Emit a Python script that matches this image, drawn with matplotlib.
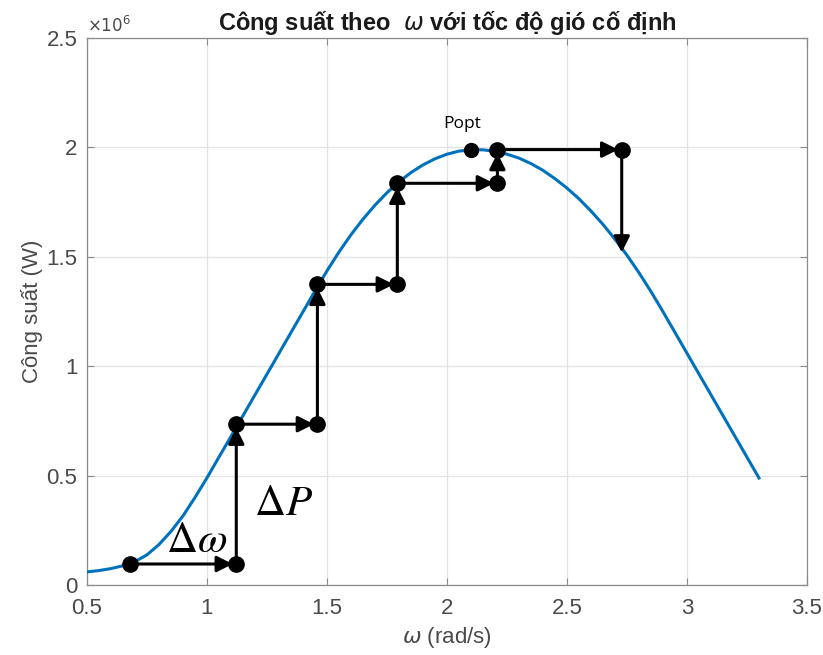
import matplotlib
matplotlib.use("Agg")
import matplotlib.pyplot as plt
import numpy as np

# ---------------- data ----------------
omega = [0.50, 0.55, 0.60, 0.65, 0.70, 0.75, 0.80, 0.85, 0.90, 0.95,
         1.00, 1.05, 1.10, 1.15, 1.20, 1.25, 1.30, 1.35, 1.40, 1.45,
         1.50, 1.55, 1.60, 1.65, 1.70, 1.75, 1.80, 1.85, 1.90, 1.95,
         2.00, 2.05, 2.10, 2.15, 2.20, 2.25, 2.30, 2.35, 2.40, 2.45,
         2.50, 2.55, 2.60, 2.65, 2.70, 2.75, 2.80, 2.85, 2.90, 2.95,
         3.00, 3.05, 3.10, 3.15, 3.20, 3.25, 3.30]
power = [0.060e6, 0.066e6, 0.075e6, 0.088e6, 0.107e6, 0.138e6, 0.185e6, 0.245e6, 0.316e6, 0.400e6,
         0.490e6, 0.585e6, 0.679e6, 0.774e6, 0.869e6, 0.964e6, 1.059e6, 1.154e6, 1.249e6, 1.344e6,
         1.436e6, 1.522e6, 1.601e6, 1.672e6, 1.736e6, 1.793e6, 1.843e6, 1.885e6, 1.920e6, 1.948e6,
         1.969e6, 1.983e6, 1.989e6, 1.989e6, 1.982e6, 1.969e6, 1.951e6, 1.926e6, 1.895e6, 1.857e6,
         1.814e6, 1.765e6, 1.709e6, 1.648e6, 1.580e6, 1.507e6, 1.427e6, 1.341e6, 1.249e6, 1.154e6,
         1.059e6, 0.964e6, 0.869e6, 0.774e6, 0.679e6, 0.584e6, 0.489e6]

# P&O steps (hill-climbing path)
step_w = [0.679, 1.122, 1.122, 1.46, 1.46, 1.793, 1.793, 2.21, 2.21, 2.728, 2.728]
step_p = [0.096e6, 0.096e6, 0.735e6, 0.735e6, 1.374e6, 1.374e6, 1.836e6,
          1.836e6, 1.99e6, 1.99e6, 1.52e6]
dot_w = step_w[:-1]
dot_p = step_p[:-1]

popt_w = 2.098
popt_p = 1.986e6

xticks = [0.5, 1, 1.5, 2, 2.5, 3, 3.5]
xtick_labels = ['0.5', '1', '1.5', '2', '2.5', '3', '3.5']
yticks = [0, 0.5e6, 1e6, 1.5e6, 2e6, 2.5e6]
ytick_labels = ['0', '0.5', '1', '1.5', '2', '2.5']

title_text = r'Công suất theo  $\omega$ với tốc độ gió cố định'
xlabel_text = r'$\omega$ (rad/s)'
ylabel_text = 'Công suất (W)'

# ---------------- figure ----------------
plt.rcParams['font.family'] = ['Liberation Sans', 'DejaVu Sans']
fig = plt.figure(figsize=(8.23, 6.55), dpi=100)
ax = fig.add_axes([87/823, 1-585/655, (807-87)/823, (585-38)/655])

tick_col = '#4a4a4a'
spine_col = '#8a8a8a'

ax.plot(omega, power, color='#0072BD', lw=2.2, zorder=3)

for i in range(len(step_w) - 1):
    last = (i == len(step_w) - 2)
    ax.annotate('', xy=(step_w[i+1], step_p[i+1]), xytext=(step_w[i], step_p[i]),
                arrowprops=dict(arrowstyle='-|>', color='k', lw=2.2,
                                mutation_scale=24, shrinkA=0,
                                shrinkB=0 if last else 2.5),
                zorder=4)

ax.plot(dot_w, dot_p, 'o', color='k', ms=11, zorder=5)
ax.plot([popt_w], [popt_p], 'o', color='k', ms=10, zorder=5)
ax.text(popt_w - 0.035, popt_p + 0.085e6, 'Popt', fontsize=12.5, family='Open Sans',
        ha='center', va='bottom', color='k', zorder=6)

ax.text(0.955, 0.2e6, r'$\Delta\omega$', fontsize=31, math_fontfamily='stix',
        ha='center', va='center', color='k')
ax.text(1.318, 0.37e6, r'$\Delta P$', fontsize=31, math_fontfamily='stix',
        ha='center', va='center', color='k')

ax.set_xlim(0.5, 3.5)
ax.set_ylim(0, 2.5e6)
ax.set_xticks(xticks)
ax.set_xticklabels(xtick_labels)
ax.set_yticks(yticks)
ax.set_yticklabels(ytick_labels)
ax.tick_params(direction='in', top=True, right=True, length=5, width=0.8,
               colors=spine_col, labelcolor=tick_col, labelsize=16)
ax.tick_params(axis='x', pad=9)
ax.tick_params(axis='y', pad=7)
for s in ax.spines.values():
    s.set_color(spine_col)
    s.set_linewidth(0.9)
ax.grid(True, color='#e3e3e3', lw=0.9)
ax.set_axisbelow(True)

ax.set_title(title_text, fontsize=17, fontweight='bold', color='#1a1a1a',
             pad=6, math_fontfamily='dejavusans')
ax.set_xlabel(xlabel_text, fontsize=16, color=tick_col, labelpad=5,
              math_fontfamily='dejavusans')
ax.set_ylabel(ylabel_text, fontsize=16, color=tick_col, labelpad=2)
ax.text(0.0, 1.005, r'$\times10^{6}$', transform=ax.transAxes, fontsize=12,
        color=tick_col, ha='left', va='bottom', math_fontfamily='dejavusans')

fig.savefig('out.png', dpi=100)
